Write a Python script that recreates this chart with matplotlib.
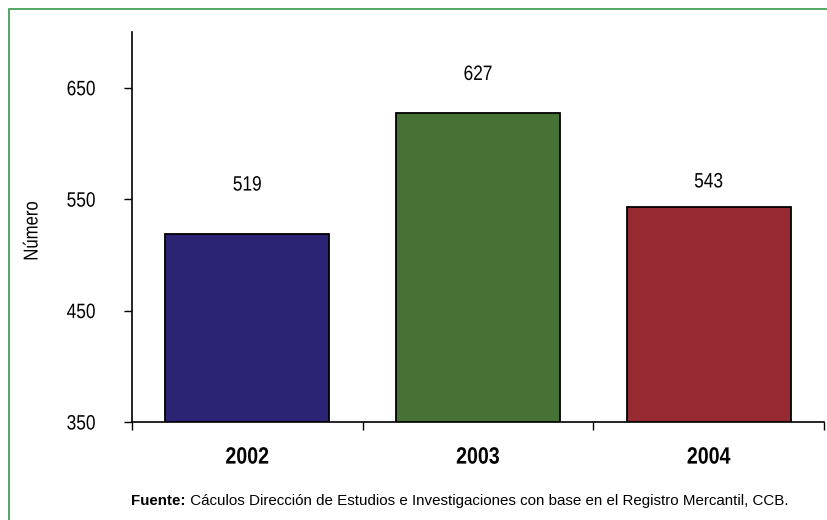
import matplotlib
matplotlib.use("Agg")
import matplotlib.pyplot as plt
from matplotlib.patches import Rectangle
from matplotlib.patheffects import AbstractPathEffect
from matplotlib.transforms import Affine2D
from matplotlib import font_manager

years = ["2002", "2003", "2004"]
values = [519, 627, 543]
colors = ["#2B2475", "#467235", "#952A33"]
y_ticks = [350, 450, 550, 650]
y_label = "Número"
source_bold = "Fuente:"
source_text = " Cáculos Dirección de Estudios e Investigaciones con base en el Registro Mercantil, CCB."

names = {f.name for f in font_manager.fontManager.ttflist}
fam = ["Liberation Sans Narrow"] if "Liberation Sans Narrow" in names else ["Liberation Sans"]
narrow_native = fam[0] == "Liberation Sans Narrow"
plt.rcParams["font.family"] = fam + ["DejaVu Sans"]

SQ = 1.0 if narrow_native else 0.83


class Condense(AbstractPathEffect):
    """Horizontally condense text glyphs (emulates a narrow typeface)."""
    def __init__(self, s, mode="center"):
        super().__init__()
        self.s = s
        self.mode = mode

    def draw_path(self, renderer, gc, tpath, affine, rgbFace=None):
        ext = tpath.get_extents()
        if self.mode == "center":
            cx = (ext.x0 + ext.x1) / 2
        elif self.mode == "right":
            cx = ext.x1
        else:
            cx = 0
        t = Affine2D().translate(-cx, 0).scale(self.s, 1).translate(cx, 0) + affine
        renderer.draw_path(gc, tpath, t, rgbFace)


def cond(mode):
    return [Condense(SQ, mode)] if SQ != 1.0 else []


W, H = 828, 520
fig = plt.figure(figsize=(W / 100, H / 100), dpi=100)
fig.patch.set_facecolor("white")

# green frame
fig.patches.append(Rectangle((9 / W, -0.1), 1.2, 1 - 9 / H + 0.1, transform=fig.transFigure,
                             fill=False, edgecolor="#35994C", linewidth=1.2))

ax = fig.add_axes([132 / W, 1 - 422 / H, (824 - 132) / W, (422 - 32) / H])
x = list(range(len(years)))
ax.bar(x, [v - 350 for v in values], bottom=350, width=0.71, color=colors,
       edgecolor="black", linewidth=1.3, zorder=3)
ax.set_xlim(-0.5, len(years) - 0.5)
ax.set_ylim(350, 700)

ax.set_yticks(y_ticks)
ax.set_yticklabels([str(t) for t in y_ticks], fontsize=15)
ax.tick_params(axis="y", direction="out", length=6, width=1, pad=20)
for lab in ax.get_yticklabels():
    lab.set_path_effects(cond("right"))

ax.set_xticks(x)
ax.set_xticklabels(years, fontsize=17, fontweight="bold")
ax.tick_params(axis="x", which="major", length=0, pad=17)
for lab in ax.get_xticklabels():
    lab.set_path_effects(cond("center"))
ax.set_xticks([i - 0.5 for i in range(len(years) + 1)], minor=True)
ax.tick_params(axis="x", which="minor", direction="out", length=6, width=1)

for s in ["top", "right"]:
    ax.spines[s].set_visible(False)
for s in ["left", "bottom"]:
    ax.spines[s].set_linewidth(1.2)

# value labels (offsets in points above bar tops)
label_offsets = [35, 28, 18]
for xi, v, off in zip(x, values, label_offsets):
    ax.annotate(str(v), xy=(xi, v), xytext=(0, off), textcoords="offset points",
                ha="center", va="center", fontsize=15, path_effects=cond("center"))

fig.text(32 / W, 1 - 231 / H, y_label, rotation=90, ha="center", va="center", fontsize=14.5,
         path_effects=cond("center"))

# source note: bold lead-in followed by regular text
t1 = fig.text(131 / W, 1 - 505 / H, source_bold, fontsize=10.9, fontweight="bold",
              ha="left", va="baseline")
ax.annotate(source_text, xy=(1, 0), xycoords=t1, va="bottom", ha="left",
            fontsize=10.9, annotation_clip=False)

fig.savefig("out.png", dpi=100)
